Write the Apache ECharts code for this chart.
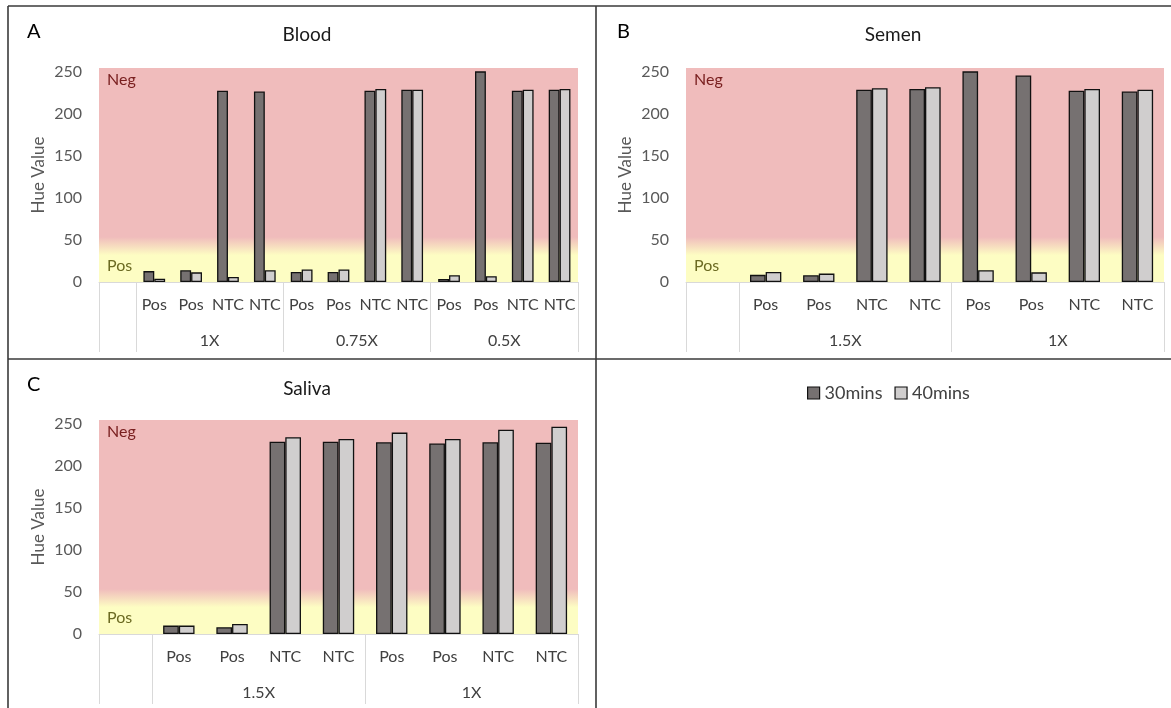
<!DOCTYPE html>
<html>
<head>
<meta charset="utf-8">
<script src="https://cdn.jsdelivr.net/npm/echarts@6/dist/echarts.min.js"></script>
<style>
html,body{margin:0;padding:0;background:#fff;}
#c{width:1171px;height:708px;}
</style>
</head>
<body>
<div id="c"></div>
<script>
// ---- data ----
const categoriesA = ['', 'Pos', 'Pos', 'NTC', 'NTC', 'Pos', 'Pos', 'NTC', 'NTC', 'Pos', 'Pos', 'NTC', 'NTC'];
const groupsA = ['1X', '0.75X', '0.5X'];
const blood30 = [null, 13, 14, 228, 227, 12, 12, 228, 229, 3.5, 251, 228, 229];
const blood40 = [null, 4, 11.5, 6, 14, 15, 15, 230, 229, 8, 7, 229, 230];

const categoriesBC = ['', 'Pos', 'Pos', 'NTC', 'NTC', 'Pos', 'Pos', 'NTC', 'NTC'];
const groupsBC = ['1.5X', '1X'];
const semen30 = [null, 8.5, 8, 229, 230, 251, 246, 228, 227];
const semen40 = [null, 12, 10, 231, 232, 14, 11.5, 230, 229];
const saliva30 = [null, 10, 8, 229, 229, 228.5, 227, 228.5, 228];
const saliva40 = [null, 10, 12, 234.5, 232.5, 240, 232.5, 243.5, 247];

const yTicks = [0, 50, 100, 150, 200, 250];
const seriesNames = ['30mins', '40mins'];
const panelTitles = ['Blood', 'Semen', 'Saliva'];
const panelLetters = ['A', 'B', 'C'];

// ---- styles ----
const FONT = 'Lato, "Open Sans", sans-serif';
const DARK = '#767171';
const LIGHT = '#d0cece';
const PINK = '#f0bcbc';
const YELLOW = '#fdfdc3';
const GRAYLINE = '#d9d9d9';
const TXT = '#595959';

const panels = [
  {cats: categoriesA, groups: groupsA, s30: blood30, s40: blood40,
   grid: {left: 99, top: 68, width: 479, height: 214}},
  {cats: categoriesBC, groups: groupsBC, s30: semen30, s40: semen40,
   grid: {left: 686, top: 68, width: 478, height: 214}},
  {cats: categoriesBC, groups: groupsBC, s30: saliva30, s40: saliva40,
   grid: {left: 99, top: 420, width: 479, height: 214}}
];

const grids = [], xAxes = [], yAxes = [], series = [];
panels.forEach((p, i) => {
  grids.push(Object.assign({
    show: true, borderWidth: 0,
    backgroundColor: {
      type: 'linear', x: 0, y: 0, x2: 0, y2: 1,
      colorStops: [
        {offset: 0, color: PINK}, {offset: 0.79, color: PINK},
        {offset: 0.875, color: YELLOW}, {offset: 1, color: YELLOW}
      ]
    }
  }, p.grid));
  const boundaryIdx = [0, 1];
  for (let g = 1; g < p.groups.length; g++) boundaryIdx.push(1 + 4 * g);
  xAxes.push({
    gridIndex: i, type: 'category', data: p.cats, position: 'bottom',
    axisLine: {show: true, lineStyle: {color: GRAYLINE, width: 1}},
    axisTick: {show: true, length: 70, lineStyle: {color: GRAYLINE, width: 1},
      interval: function (idx) { return boundaryIdx.indexOf(idx) >= 0; }},
    axisLabel: {interval: 0, color: '#404040', fontFamily: FONT, fontSize: 16, margin: 15},
    splitLine: {show: false}
  });
  const centers = {};
  p.groups.forEach((g, k) => { centers[3 + 4 * k] = g; });
  xAxes.push({
    gridIndex: i, type: 'value', position: 'bottom', offset: 49,
    min: 0, max: p.cats.length, interval: 1,
    axisLine: {show: false}, axisTick: {show: false}, splitLine: {show: false},
    axisLabel: {color: '#404040', fontFamily: FONT, fontSize: 16, margin: 2,
      showMinLabel: true, showMaxLabel: true,
      formatter: function (v) { return centers[Math.round(v)] || ''; }}
  });
  yAxes.push({
    gridIndex: i, type: 'value', min: 0, max: 255, interval: 50,
    name: 'Hue Value', nameLocation: 'middle', nameGap: 52, nameRotate: 90,
    nameTextStyle: {color: TXT, fontFamily: FONT, fontSize: 17},
    axisLine: {show: false}, axisTick: {show: false}, splitLine: {show: false},
    axisLabel: {color: TXT, fontFamily: FONT, fontSize: 16, margin: 17,
      formatter: function (v) { return yTicks.indexOf(v) >= 0 ? String(v) : ''; }}
  });
  [p.s30, p.s40].forEach((d, k) => {
    series.push({
      name: seriesNames[k], type: 'bar', xAxisIndex: 2 * i, yAxisIndex: i,
      data: d, barGap: '0%', barCategoryGap: '41%',
      itemStyle: {color: k === 0 ? DARK : LIGHT, borderColor: '#111', borderWidth: 1.3},
      emphasis: {disabled: true}
    });
  });
});

const titles = [];
const titlePos = [[302, 20], [888, 20], [302, 374]];
const letterPos = [[22, 17], [612, 17], [22, 370]];
panels.forEach((p, i) => {
  titles.push({text: panelTitles[i], left: titlePos[i][0], top: titlePos[i][1], textAlign: 'center',
    textStyle: {fontFamily: FONT, fontSize: 19, fontWeight: 'normal', color: '#1a1a1a'}});
  titles.push({text: panelLetters[i], left: letterPos[i][0], top: letterPos[i][1],
    textStyle: {fontFamily: FONT, fontSize: 20, fontWeight: 'normal', color: '#000'}});
});

const chart = echarts.init(document.getElementById('c'), null, {renderer: 'canvas'});
chart.setOption({
  animation: false,
  title: titles,
  legend: {
    data: seriesNames, left: 802, top: 379, icon: 'rect', itemWidth: 12, itemHeight: 12, itemGap: 12,
    textStyle: {fontFamily: FONT, fontSize: 18, color: '#404040'},
    itemStyle: {borderColor: '#111', borderWidth: 1.2}
  },
  grid: grids, xAxis: xAxes, yAxis: yAxes, series: series
});

// zone labels and panel frame
const g = [];
panels.forEach((p, i) => {
  const neg = chart.convertToPixel({gridIndex: i}, [0, 240]);
  const pos = chart.convertToPixel({gridIndex: i}, [0, 18]);
  const left = p.grid.left + 8;
  g.push({type: 'text', left: left, top: neg[1] - 9, style: {text: 'Neg', font: '16px ' + FONT, fill: '#7a2020'}});
  g.push({type: 'text', left: left, top: pos[1] - 9, style: {text: 'Pos', font: '16px ' + FONT, fill: '#6b6a22'}});
});
const LS = {stroke: '#3a3a3a', lineWidth: 1.6};
g.push({type: 'line', shape: {x1: 8, y1: 6, x2: 1171, y2: 6}, style: LS});
g.push({type: 'line', shape: {x1: 8, y1: 6, x2: 8, y2: 708}, style: LS});
g.push({type: 'line', shape: {x1: 596, y1: 6, x2: 596, y2: 708}, style: LS});
g.push({type: 'line', shape: {x1: 8, y1: 359, x2: 1171, y2: 359}, style: LS});
chart.setOption({graphic: g});
</script>
</body>
</html>
